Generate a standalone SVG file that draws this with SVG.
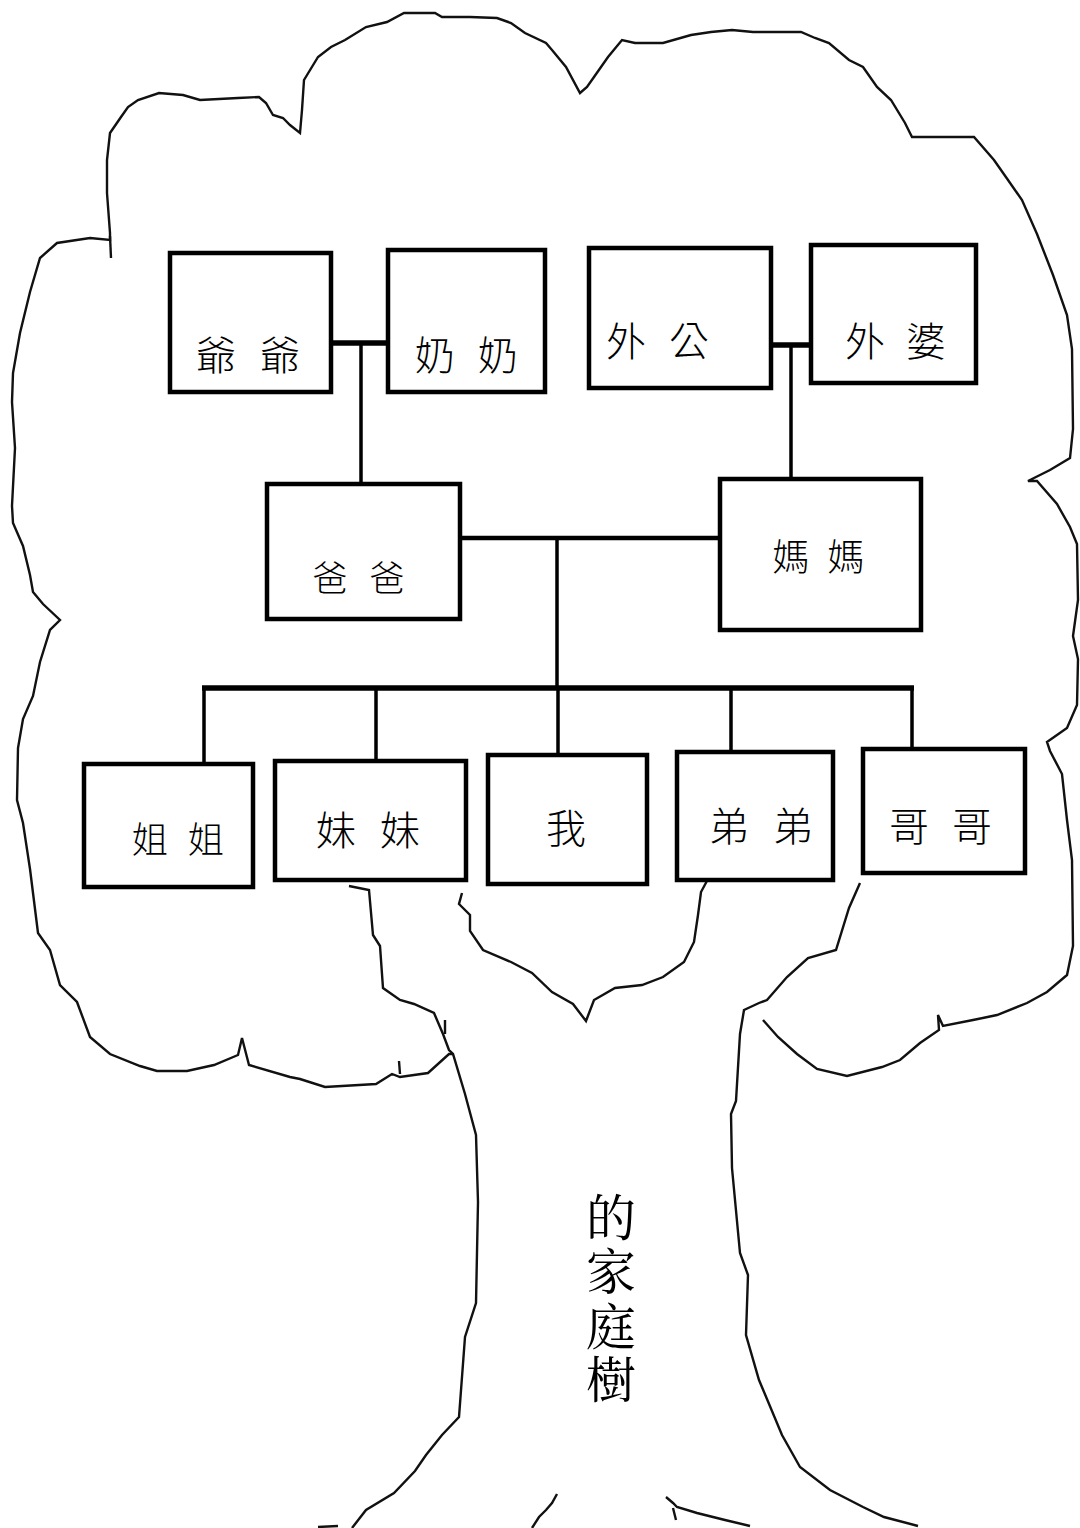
<svg xmlns="http://www.w3.org/2000/svg" width="1080" height="1528" viewBox="0 0 1080 1528">
<style>
.bg{fill:#ffffff}
.tree{fill:none;stroke:#111;stroke-width:2.4;stroke-linejoin:miter;stroke-linecap:butt}
.box{fill:#fff;stroke:#000;stroke-width:4.5}
.conn{fill:none;stroke:#000;stroke-width:3.5}
.thick{fill:none;stroke:#000;stroke-width:5.5}
.lbl{font-family:"Noto Sans CJK TC","Noto Sans CJK SC",sans-serif;font-weight:300;fill:#000;text-anchor:middle}
.title{font-family:"Noto Serif CJK TC","Noto Sans CJK TC",serif;fill:#000;text-anchor:middle;font-size:50px}
</style>
<rect class="bg" x="0" y="0" width="1080" height="1528"/>
<g id="tree-outline">
<path class="tree" d="M453,1054 L449,1054 L428,1073 L400,1077 L392,1074 L376,1084 L325,1087 L300,1079 L290,1077 L249,1065 L242,1038 L238,1055 L214,1065 L187,1071 L157,1071 L140,1066 L110,1054 L90,1037 L77,1002 L60,985 L50,950 L38,933 L30,869 L23,823 L17,800 L18,748 L23,719 L33,696 L40,662 L50,630 L60,620 L43,604 L33,592 L30,575 L23,546 L13,523 L12,506 L15,448 L12,402 L13,373 L20,333 L30,292 L40,258 L57,243 L90,238 L110,240 L110,233 L107,193 L107,160 L110,133 L121,117 L128,107 L138,100 L159,93 L183,95 L200,100 L238,98 L259,97 L266,103 L273,115 L283,118 L290,125 L300,133 L302,110 L304,80 L318,57 L331,47 L345,40 L366,27 L387,22 L404,13 L435,13 L442,17 L470,17 L497,18 L511,23 L525,33 L546,43 L552,50 L566,67 L580,93 L587,87 L594,77 L608,57 L622,40 L635,43 L663,43 L691,35 L711,32 L732,30 L753,32 L801,32 L815,38 L829,43 L849,60 L863,67 L877,87 L891,100 L905,123 L912,137 L974,137 L994,160 L1008,180 L1022,200 L1037,234 L1053,275 L1067,315 L1072,349 L1073,429 L1070,458 L1050,470 L1028,481 L1037,481 L1057,504 L1070,527 L1077,544 L1078,600 L1073,636 L1078,659 L1077,705 L1067,728 L1047,742 L1050,751 L1062,774 L1067,820 L1072,860 L1073,946 L1067,975 L1047,992 L1027,1003 L997,1015 L973,1020 L943,1026 L938,1015 L939,1030 L920,1043 L900,1060 L882,1067 L847,1076 L817,1069 L797,1054 L778,1037 L763,1020"/>
<path class="tree" d="M110,236 L111,258"/>
<path class="tree" d="M349,886 L369,890 L373,935 L380,946 L383,988 L400,1000 L414,1004 L434,1013 L443,1034 L449,1050 L453,1054 L465,1094 L476,1135 L478,1202 L476,1303 L465,1337 L459,1417 L442,1435 L426,1455 L415,1471 L394,1493 L366,1510 L352,1528"/>
<path class="tree" d="M445,1020 L445,1034 M399,1061 L400,1074"/>
<path class="tree" d="M462,893 L459,904 L470,915 L470,931 L483,950 L511,962 L532,973 L552,992 L573,1004 L586,1021 L594,1000 L615,988 L642,985 L663,977 L684,962 L694,942 L698,915 L701,892 L708,879"/>
<path class="tree" d="M860,883 L849,908 L836,950 L808,958 L787,977 L767,1000 L759,1003 L744,1010 L740,1034 L736,1101 L731,1114 L732,1168 L740,1253 L748,1275 L746,1335 L759,1380 L782,1435 L800,1467 L830,1490 L863,1507 L884,1517 L918,1526"/>
<path class="tree" d="M557,1494 L552,1503 L546,1510 L539,1517 L532,1528 M666,1497 L673,1503 L677,1507 L697,1513 L725,1520 L750,1526 M673,1508 L676,1520 M318,1527 L338,1526"/>
</g>
<g id="connectors">
<path class="thick" d="M331,343 L388,343"/>
<path class="conn" d="M361,343 L361,484"/>
<path class="thick" d="M772,345 L810,345"/>
<path class="conn" d="M791,345 L791,479"/>
<path class="conn" d="M460,538 L720,538" style="stroke-width:4.5"/>
<path class="conn" d="M557,538 L557,688"/>
<path class="thick" d="M202,688 L914,688"/>
<path class="conn" d="M204,688 L204,763 M376,688 L376,760 M558,688 L558,755 M731,688 L731,752 M912,688 L912,748"/>
</g>
<g id="node-yeye"><rect class="box" x="170" y="253" width="161" height="139"/><text class="lbl" font-size="40" x="216 248 280" y="370">爺 爺</text></g>
<g id="node-nainai"><rect class="box" x="388" y="250" width="157" height="142"/><text class="lbl" font-size="40" x="435 466 498" y="370">奶 奶</text></g>
<g id="node-waigong"><rect class="box" x="589" y="248" width="182" height="140"/><text class="lbl" font-size="40" x="626 657 689" y="356">外 公</text></g>
<g id="node-waipo"><rect class="box" x="811" y="245" width="165" height="138"/><text class="lbl" font-size="40" x="865 895 926" y="356">外 婆</text></g>
<g id="node-baba"><rect class="box" x="267" y="484" width="193" height="135"/><text class="lbl" font-size="35" x="330 358 387" y="591">爸 爸</text></g>
<g id="node-mama"><rect class="box" x="720" y="479" width="201" height="151"/><text class="lbl" font-size="37" x="791 818 846" y="571">媽 媽</text></g>
<g id="node-jiejie"><rect class="box" x="84" y="764" width="169" height="123"/><text class="lbl" font-size="36" x="150 178 206" y="853">姐 姐</text></g>
<g id="node-meimei"><rect class="box" x="275" y="761" width="191" height="119"/><text class="lbl" font-size="40" x="336 368 400" y="845">妹 妹</text></g>
<g id="node-wo"><rect class="box" x="488" y="755" width="159" height="129"/><text class="lbl" font-size="40" x="566" y="843">我</text></g>
<g id="node-didi"><rect class="box" x="677" y="752" width="156" height="128"/><text class="lbl" font-size="40" x="729 761 793" y="841">弟 弟</text></g>
<g id="node-gege"><rect class="box" x="863" y="749" width="162" height="124"/><text class="lbl" font-size="40" x="909 940 972" y="841">哥 哥</text></g>
<g id="title"><text class="title" x="611 611 611 611" y="1236 1290 1345 1398">的家庭樹</text></g>
</svg>
